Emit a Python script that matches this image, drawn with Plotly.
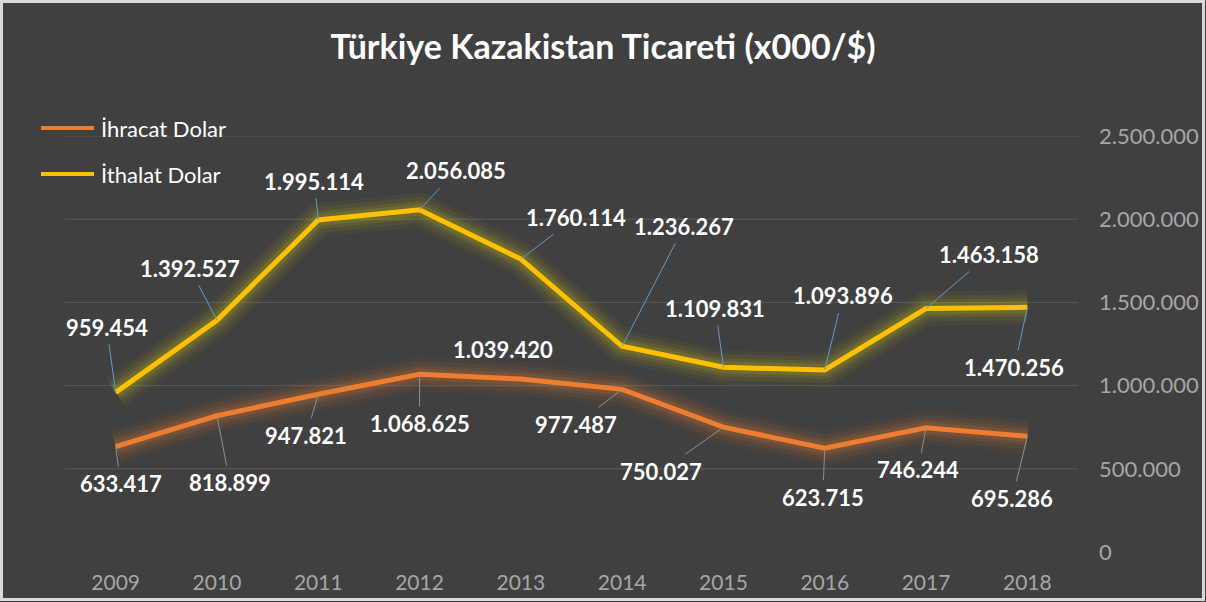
import plotly.graph_objects as go

# ---- data ----
years = ["2009", "2010", "2011", "2012", "2013", "2014", "2015", "2016", "2017", "2018"]
ihracat = [633417, 818899, 947821, 1068625, 1039420, 977487, 750027, 623715, 746244, 695286]
ithalat = [959454, 1392527, 1995114, 2056085, 1760114, 1236267, 1109831, 1093896, 1463158, 1470256]
series_names = ["İhracat Dolar", "İthalat Dolar"]
y_ticks = [0, 500000, 1000000, 1500000, 2000000, 2500000]
title_text = "Türkiye Kazakistan Ticareti (x000/$)"

# ---- style ----
W, H = 1206, 602
ML, MR, MT, MB = 65, 128, 136, 50
PW, PH = W - ML - MR, H - MT - MB
BG = "#404040"
ORANGE = "#ED7D31"
YELLOW = "#FFC000"
FONT = "Lato"

# label offsets (pixels, text centre relative to point)
off_ith = [(-9, -65), (-27, -52), (-4, -39), (36, -39), (55, -42),
           (62, -120), (-8, -59), (18, -74), (63, -54), (-13, 60)]
off_ihr = [(5, 37), (13, 67), (-12, 41), (0, 49), (-18, -30),
           (-46, 35), (-62, 44), (-2, 49), (-8, 42), (-15, 62)]
lead_ihr = [True, True, True, True, False, True, True, True, True, True]


def px_x(px):
    return (px - ML) / PW


def px_y(py):
    return (H - MB - py) / PH


def tr(v):
    return f"{v:,}".replace(",", ".")


xidx = list(range(len(years)))

fig = go.Figure()

# glow layers
for vals, gcol in ((ihracat, "rgba(237,125,49,{a})"), (ithalat, "rgba(215,205,20,{a})")):
    for w, a in ((34, 0.05), (26, 0.07), (18, 0.10), (12, 0.14)):
        fig.add_trace(go.Scatter(x=years, y=vals, mode="lines",
                                 line=dict(color=gcol.format(a=a), width=w, shape="linear"),
                                 hoverinfo="skip", showlegend=False))

# main lines
fig.add_trace(go.Scatter(x=years, y=ihracat, mode="lines", name=series_names[0],
                         line=dict(color=ORANGE, width=5), showlegend=False))
fig.add_trace(go.Scatter(x=years, y=ithalat, mode="lines", name=series_names[1],
                         line=dict(color=YELLOW, width=5), showlegend=False))

annotations = []
for i, v in zip(xidx, ithalat):
    ax, ay = off_ith[i]
    annotations.append(dict(x=i, y=v, xref="x", yref="y", text=tr(v), showarrow=True,
                            ax=ax, ay=ay, arrowhead=0, arrowwidth=1, arrowcolor="#5B9BD5",
                            standoff=0, borderpad=3,
                            font=dict(family=FONT, size=22, color="white", weight="bold")))
for i, v in zip(xidx, ihracat):
    ax, ay = off_ihr[i]
    annotations.append(dict(x=i, y=v, xref="x", yref="y", text=tr(v), showarrow=True,
                            ax=ax, ay=ay, arrowhead=0, arrowwidth=1,
                            arrowcolor="#8f8f8f" if lead_ihr[i] else "rgba(0,0,0,0)",
                            standoff=0, borderpad=3,
                            font=dict(family=FONT, size=22, color="white", weight="bold")))

# custom legend
shapes = []
for name, col, py in ((series_names[0], ORANGE, 128), (series_names[1], YELLOW, 174)):
    shapes.append(dict(type="line", xref="paper", yref="paper",
                       x0=px_x(41), x1=px_x(94), y0=px_y(py), y1=px_y(py),
                       line=dict(color=col, width=4)))
    annotations.append(dict(x=px_x(99), y=px_y(py), xref="paper", yref="paper",
                            text=name, showarrow=False, xanchor="left", yanchor="middle",
                            font=dict(family=FONT, size=22, color="white")))

# gridlines
for t in y_ticks[1:]:
    shapes.append(dict(type="line", xref="paper", yref="y", x0=0, x1=1, y0=t, y1=t,
                       line=dict(color="#595959", width=1), layer="below"))

# outer frame
shapes.append(dict(type="rect", xref="paper", yref="paper",
                   x0=px_x(1.5), x1=px_x(1203.5), y0=px_y(1.5), y1=px_y(599.5),
                   line=dict(color="#D9D9D9", width=3), fillcolor="rgba(0,0,0,0)"))

fig.update_layout(
    width=W, height=H,
    margin=dict(l=ML, r=MR, t=MT, b=MB, pad=0, autoexpand=False),
    paper_bgcolor=BG, plot_bgcolor=BG,
    separators=",.",
    title=dict(text=title_text, x=0.5, xref="container", xanchor="center",
               y=1 - 47 / H, yref="container", yanchor="middle",
               font=dict(family=FONT, size=34, color="white", weight="bold")),
    showlegend=False,
    annotations=annotations,
    shapes=shapes,
    xaxis=dict(type="category", range=[-0.5, 9.5], showgrid=False, zeroline=False,
               showline=False, ticks="", ticklabelstandoff=16, automargin=False,
               tickfont=dict(family=FONT, size=21, color="#A6A6A6")),
    yaxis=dict(side="right", range=[0, 2500000], tickvals=y_ticks, tickformat=",d",
               showgrid=False, zeroline=False, showline=False, ticks="",
               ticklabelstandoff=20, automargin=False,
               tickfont=dict(family=FONT, size=22, color="#A6A6A6")),
    hovermode=False,
)

fig.write_html("out.html", config={"displayModeBar": False},
               post_script="document.body.style.margin='0px';document.body.style.overflow='hidden';")
